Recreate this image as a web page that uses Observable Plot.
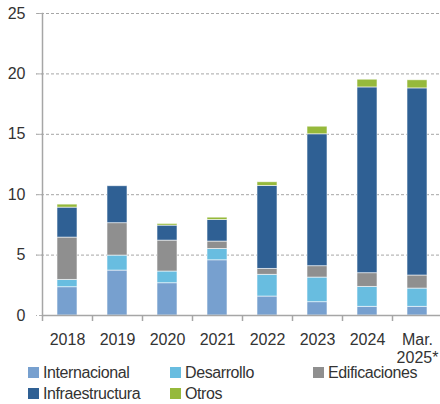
<!DOCTYPE html>
<html><head><meta charset="utf-8">
<script src="https://cdn.jsdelivr.net/npm/d3@7"></script>
<script src="https://cdn.jsdelivr.net/npm/@observablehq/plot@0.6"></script>
<style>
body{margin:0;background:#fff;font-family:"Liberation Sans",Arial,sans-serif;}
#wrap{position:relative;width:440px;height:404px;overflow:hidden;}
#wrap svg{overflow:visible;}
.leg{position:absolute;font-size:16px;color:#333;line-height:18px;letter-spacing:-0.4px;white-space:nowrap;}
.leg span.sw{position:absolute;left:0;top:3px;width:11px;height:11px;}
.leg span.tx{position:absolute;left:15px;top:0;}
</style></head>
<body><div id="wrap"></div>
<script>
const categories = ["2018","2019","2020","2021","2022","2023","2024","Mar.\n2025*"];
const seriesNames = ["Internacional","Desarrollo","Edificaciones","Infraestructura","Otros"];
const colors = ["#77a0cf","#68bde0","#8f8f8f","#2f6094","#96b93b"];
const internacional   = [2.34, 3.72, 2.67, 4.57, 1.57, 1.10, 0.72, 0.72];
const desarrollo      = [0.61, 1.24, 0.97, 0.94, 1.80, 2.04, 1.65, 1.51];
const edificaciones   = [3.50, 2.68, 2.56, 0.61, 0.49, 0.94, 1.13, 1.08];
const infraestructura = [2.48, 3.06, 1.24, 1.79, 6.87, 10.92, 15.38, 15.49];
const otros           = [0.25, 0.00, 0.14, 0.19, 0.30, 0.63, 0.64, 0.67];
const yTicks = [0,5,10,15,20,25];

const seriesValues = [internacional, desarrollo, edificaciones, infraestructura, otros];
const data = [];
seriesNames.forEach((s,i)=>categories.forEach((c,j)=>data.push({cat:c, serie:s, value:seriesValues[i][j]})));

const chart = Plot.plot({
  width: 440, height: 362,
  marginTop: 13, marginBottom: 47, marginLeft: 42, marginRight: 0,
  style: {fontFamily: '"Liberation Sans", Arial, sans-serif', fontSize: "16px", color: "#333", background: "#fff", overflow: "visible"},
  x: {domain: categories, range: [42, 442], paddingInner: 0.6, paddingOuter: 0.3, label: null},
  y: {domain: [0,25], label: null},
  color: {domain: seriesNames, range: colors},
  marks: [
    Plot.gridY(yTicks.filter(d=>d>0), {stroke:"#a6a6a6", strokeOpacity:1, strokeDasharray:"3,2", insetLeft: -6}),
    Plot.axisY(yTicks, {tickSize: 6, tickPadding: 11, stroke:"#b0b0b0", strokeDasharray:"3,2", fill:"#333", fontSize: 16, label: null}),
    Plot.barY(data, {x:"cat", y:"value", fill:"serie", order: seriesNames, stroke:"#ffffff", strokeWidth:0.8, strokeOpacity:0.7}),
    Plot.ruleY([0], {stroke:"#a6a6a6", strokeWidth:1.5}),
    Plot.frame({anchor:"left", stroke:"#a6a6a6", strokeWidth:1.5}),
    Plot.ruleX(categories, {x: d=>d, y1: 0, y2: 0, dx: -25, insetBottom: -6, stroke:"#a6a6a6", strokeWidth:1.5}),
    Plot.axisX({tickSize: 0, tickPadding: 16, fill:"#333", fontSize: 16, label: null, lineHeight: 1.15})
  ]
});
const wrap = document.getElementById("wrap");
wrap.appendChild(chart);

const legendPos = [[28,364],[170,364],[313,364],[28,385],[170,385]];
seriesNames.forEach((s,i)=>{
  const d = document.createElement("div");
  d.className = "leg";
  d.style.left = legendPos[i][0]+"px";
  d.style.top = legendPos[i][1]+"px";
  d.innerHTML = `<span class="sw" style="background:${colors[i]}"></span><span class="tx">${s}</span>`;
  wrap.appendChild(d);
});
</script></body></html>
